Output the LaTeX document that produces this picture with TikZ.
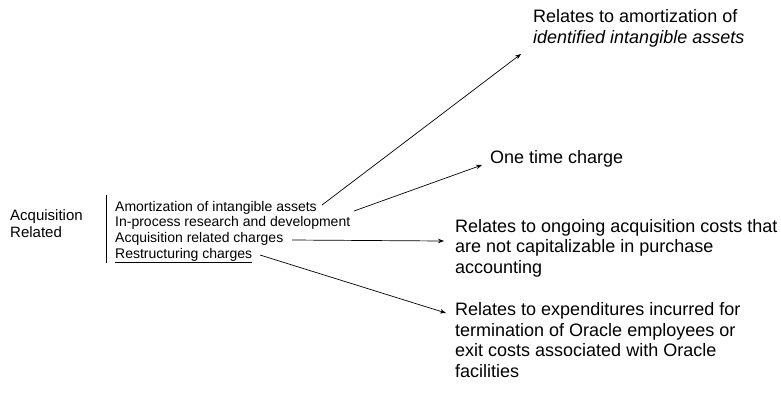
\documentclass[tikz,border=0pt]{standalone}
\usepackage{fontspec}
\setmainfont{Liberation Sans}
\usetikzlibrary{arrows.meta}
\begin{document}
\begin{tikzpicture}[x=1pt,y=-1pt,
  big/.style={anchor=base west,inner sep=0pt,font=\fontsize{18}{20.5}\selectfont,align=left},
  small/.style={anchor=base west,inner sep=0pt,font=\fontsize{14}{16}\selectfont},
  arr/.style={-{Stealth[length=6pt,width=4.5pt]},line width=0.7pt}]
\useasboundingbox (0,0) rectangle (781,392);
\node[anchor=base west,inner sep=0pt,font=\fontsize{15}{17}\selectfont,align=left] (acq) at (10,237) {Acquisition\\Related};
\draw[line width=0.8pt] (106,195) -- (106,263);
\node[small] (l1) at (115,211) {Amortization of intangible assets};
\node[small] (l2) at (115,226) {In-process research and development};
\node[small] (l3) at (115,242) {Acquisition related charges};
\node[small] (l4) at (115,258) {\underline{Restructuring charges}};
\node[big] (r1) at (533,43) {Relates to amortization of\\\textit{identified intangible assets}};
\node[big] (r2) at (490,163) {One time charge};
\node[big] (r3) at (455,273) {Relates to ongoing acquisition costs that\\are not capitalizable in purchase\\accounting};
\node[big] (r4) at (455,377) {Relates to expenditures incurred for\\termination of Oracle employees or\\exit costs associated with Oracle\\facilities};
\coordinate (s1) at (322,205);
\coordinate (e1) at (521,54);
\coordinate (s2) at (354,211);
\coordinate (e2) at (482,165);
\coordinate (s3) at (292,240);
\coordinate (e3) at (444,241);
\coordinate (s4) at (260,255);
\coordinate (e4) at (446,313);
\draw[arr] (s1) -- (e1);
\draw[arr] (s2) -- (e2);
\draw[arr] (s3) -- (e3);
\draw[arr] (s4) -- (e4);
\end{tikzpicture}
\end{document}
